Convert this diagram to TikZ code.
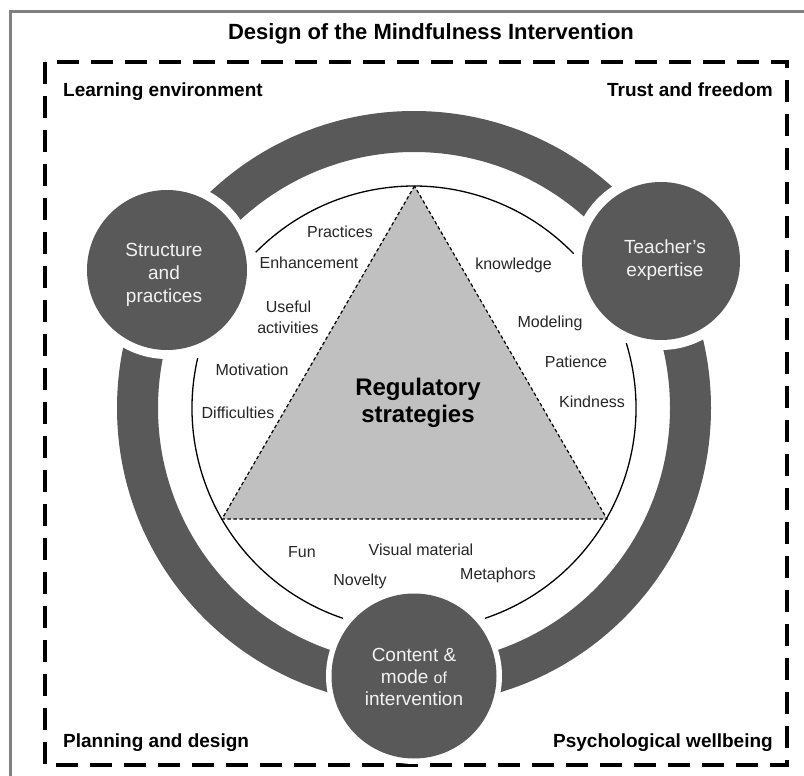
\documentclass[tikz,border=0pt]{standalone}
\usepackage{fontspec}
\setmainfont{Liberation Sans}
\definecolor{darkband}{RGB}{89,89,89}
\definecolor{trigray}{RGB}{192,192,192}
\definecolor{framegray}{RGB}{128,128,128}
\begin{document}
\begin{tikzpicture}[x=1pt,y=-1pt,
  lbl/.style={font=\fontsize{16}{19}\selectfont, anchor=base, inner sep=0pt, text=black!85},
  cornerlbl/.style={font=\bfseries\fontsize{19}{22}\selectfont, inner sep=0pt},
  hub/.style={circle, fill=darkband, inner sep=0pt},
  hubtxt/.style={font=\fontsize{19}{22}\selectfont, anchor=base, inner sep=0pt, text=white!95!black},
  thinring/.style={line width=1.3pt, black},
  tridash/.style={line width=1.2pt, dash pattern=on 3.5pt off 2.5pt}
]
\useasboundingbox (0,0) rectangle (804,776);
\clip (0,0) rectangle (804,776);
\fill[white] (0,0) rectangle (804,776);
% outer grey frame
\draw[framegray, line width=3pt] (10,800) -- (10,12) -- (820,12);
% title
\node[font=\bfseries\fontsize{22}{26}\selectfont, anchor=base, inner sep=0pt] (title) at (431,40) {Design of the Mindfulness Intervention};
% dashed frame
\draw[line width=3.5pt, dash pattern=on 22pt off 12pt] (45,62) rectangle (787,765);
% corner labels
\node[cornerlbl, anchor=base west] (le) at (63,97) {Learning environment};
\node[cornerlbl, anchor=base east] (tf) at (773,97) {Trust and freedom};
\node[cornerlbl, anchor=base west] (pd) at (63,747) {Planning and design};
\node[cornerlbl, anchor=base east] (pw) at (773,747) {Psychological wellbeing};
% thick band
\coordinate (ctr) at (414,408);
\fill[darkband, even odd rule] (ctr) circle[radius=297] (ctr) circle[radius=256];
% white cut-outs around hubs
\fill[white] (167,270) circle[radius=89];
\fill[white] (661,261) circle[radius=89];
\fill[white] (414,676) circle[radius=88];
% hubs
\node[hub, minimum size=160pt] (sp) at (167,270) {};
\node[hub, minimum size=158pt] (te) at (661,261) {};
\node[hub, minimum size=165pt] (cm) at (414,676) {};
% thin inner circle arcs
\draw[thinring] (ctr) ++(-135.5:222) arc[start angle=-135.5, end angle=-44, radius=222];
\draw[thinring] (ctr) ++(108.7:222) arc[start angle=108.7, end angle=193, radius=222];
\draw[thinring] (ctr) ++(-17:222) arc[start angle=-17, end angle=71.3, radius=222];
% triangle
\coordinate (ta) at (414.5,186);
\coordinate (tb) at (222,519);
\coordinate (tc) at (607,519);
\filldraw[fill=trigray, draw=black, tridash] (ta) -- (tb) -- (tc) -- cycle;
\node[font=\bfseries\fontsize{24}{27}\selectfont, anchor=base, inner sep=0pt] (rs1) at (418,395) {Regulatory};
\node[font=\bfseries\fontsize{24}{27}\selectfont, anchor=base, inner sep=0pt] (rs2) at (418,422.5) {strategies};
% hub texts
\node[hubtxt] (sp1) at (164,256) {Structure};
\node[hubtxt] (sp2) at (164,279) {and};
\node[hubtxt] (sp3) at (164,302) {practices};
\node[hubtxt] (te1) at (665,253) {Teacher's};
\node[hubtxt] (te2) at (665,276) {expertise};
\node[hubtxt] (cm1) at (414,661) {Content \&};
\node[hubtxt] (cm2) at (414,683) {mode {\fontsize{16}{19}\selectfont of}};
\node[hubtxt] (cm3) at (414,705) {intervention};
% labels
\node[lbl] (l1) at (340,237) {Practices};
\node[lbl] (l2) at (309,268) {Enhancement};
\node[lbl] (l3) at (288.5,312) {Useful};
\node[lbl] (l4) at (288,333) {activities};
\node[lbl] (l5) at (252,375) {Motivation};
\node[lbl] (l6) at (238,418) {Difficulties};
\node[lbl] (r1) at (513.5,269) {knowledge};
\node[lbl] (r2) at (550,327) {Modeling};
\node[lbl] (r3) at (576,367) {Patience};
\node[lbl] (r4) at (592,407) {Kindness};
\node[lbl] (b1) at (302,557) {Fun};
\node[lbl] (b2) at (421,555) {Visual material};
\node[lbl] (b3) at (360,585) {Novelty};
\node[lbl] (b4) at (498,579) {Metaphors};
\end{tikzpicture}
\end{document}
